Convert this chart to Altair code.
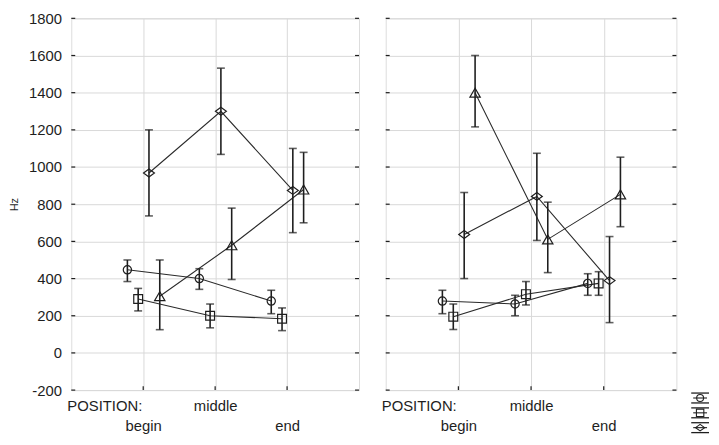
import altair as alt
import pandas as pd

# ---------------- data ----------------
positions = ["begin", "middle", "end"]
series_names = ["Series 1", "Series 2", "Series 3", "Series 4"]
series_shapes = ["circle", "square", "M-1,0L0,-0.72L1,0L0,0.72Z", "triangle-up"]
series_sizes = [70, 80, 121, 110]

# panel 1 (left)
p1_mean = {
    "Series 1": [447, 400, 279],
    "Series 2": [290, 200, 184],
    "Series 3": [968, 1300, 874],
    "Series 4": [305, 579, 879],
}
p1_lo = {
    "Series 1": [384, 342, 211],
    "Series 2": [226, 135, 120],
    "Series 3": [737, 1068, 647],
    "Series 4": [125, 395, 700],
}
p1_hi = {
    "Series 1": [500, 453, 337],
    "Series 2": [347, 263, 242],
    "Series 3": [1200, 1532, 1100],
    "Series 4": [500, 779, 1079],
}

# panel 2 (right)
p2_mean = {
    "Series 1": [279, 263, 374],
    "Series 2": [195, 316, 374],
    "Series 3": [637, 842, 389],
    "Series 4": [1400, 611, 853],
}
p2_lo = {
    "Series 1": [211, 200, 310],
    "Series 2": [126, 258, 310],
    "Series 3": [400, 605, 163],
    "Series 4": [1216, 432, 679],
}
p2_hi = {
    "Series 1": [337, 310, 426],
    "Series 2": [263, 384, 437],
    "Series 3": [863, 1074, 626],
    "Series 4": [1600, 811, 1053],
}

y_ticks = list(range(-200, 1801, 200))

# ---------------- layout / style settings ----------------
DODGE = {"Series 1": -0.22, "Series 2": -0.07, "Series 3": 0.08, "Series 4": 0.23}
W1, W2, H = 291, 294, 376
FONT = "Liberation Sans"
INK = "#1e1e1e"
GRID = "#d9d9d9"


def build_df(mean, lo, hi):
    rows = []
    for s in series_names:
        for i, p in enumerate(positions):
            rows.append({
                "series": s,
                "position": p,
                "x": i + 1 + DODGE[s],
                "mean": mean[s][i],
                "lo": lo[s][i],
                "hi": hi[s][i],
            })
    return pd.DataFrame(rows)


xscale = alt.Scale(domain=[0, 4], nice=False, zero=False)
yscale = alt.Scale(domain=[-200, 1800], nice=False, zero=False)

xaxis = alt.Axis(
    values=[1, 2, 3], title=None, grid=True, gridColor=GRID, gridWidth=1,
    ticks=False, tickSize=0, domain=False, labelOverlap=False,
    labelExpr="datum.value == 2 ? 'middle' : (datum.value == 1 ? ['', 'begin'] : ['', 'end'])",
    labelFont=FONT, labelFontSize=15, labelColor=INK, labelPadding=9,
    labelLineHeight=20, labelBaseline="top",
)


def yaxis(first):
    if first:
        return alt.Axis(
            values=y_ticks, title="Hz", titleFont=FONT, titleFontSize=11,
            titleFontWeight="normal", titleColor=INK, titlePadding=9,
            grid=True, gridColor=GRID, gridWidth=1, ticks=False, tickSize=0,
            domain=False, labelFont=FONT, labelFontSize=15, labelColor=INK,
            labelPadding=10, labelExpr="toString(datum.value)",
        )
    return alt.Axis(
        values=y_ticks, title=None, labels=False, grid=True, gridColor=GRID,
        gridWidth=1, ticks=False, tickSize=0, domain=False, minExtent=0,
    )


def panel(df, first, W):
    ya = yaxis(first)
    X = alt.X("x:Q", scale=xscale, axis=xaxis)
    base = alt.Chart(df)

    lines = base.mark_line(color="#2a2a2a", strokeWidth=1.1).encode(
        x=X, y=alt.Y("mean:Q", scale=yscale, axis=ya), detail="series:N"
    )
    bars = base.mark_rule(color=INK, strokeWidth=1.6).encode(
        x=X, y=alt.Y("lo:Q", scale=yscale, axis=ya), y2="hi:Q"
    )
    cap_lo = base.mark_tick(orient="horizontal", color=INK, size=8, thickness=1.6).encode(
        x=X, y=alt.Y("lo:Q", scale=yscale, axis=ya)
    )
    cap_hi = base.mark_tick(orient="horizontal", color=INK, size=8, thickness=1.6).encode(
        x=X, y=alt.Y("hi:Q", scale=yscale, axis=ya)
    )
    pts = []
    for s, shp, sz in zip(series_names, series_shapes, series_sizes):
        pts.append(
            base.transform_filter(alt.datum.series == s)
            .mark_point(shape=shp, size=sz, filled=False, color=INK, strokeWidth=1.2, opacity=1)
            .encode(x=X, y=alt.Y("mean:Q", scale=yscale, axis=ya))
        )

    # inward axis ticks drawn along the frame
    tdf = pd.DataFrame({"v": y_ticks})
    tl = alt.Chart(tdf).mark_rule(color=INK, strokeWidth=1.2).encode(
        x=alt.value(0), x2=alt.value(4), y=alt.Y("v:Q", scale=yscale, axis=ya)
    )
    tr = alt.Chart(tdf).mark_rule(color=INK, strokeWidth=1.2).encode(
        x=alt.value(W - 4), x2=alt.value(W), y=alt.Y("v:Q", scale=yscale, axis=ya)
    )
    xdf = pd.DataFrame({"v": [1, 2, 3]})
    tb = alt.Chart(xdf).mark_rule(color=INK, strokeWidth=1.2).encode(
        x=alt.X("v:Q", scale=xscale, axis=xaxis), y=alt.value(H - 4), y2=alt.value(H)
    )

    pos_label = alt.Chart(pd.DataFrame({"t": ["POSITION:"]})).mark_text(
        align="left", baseline="top", font=FONT, fontSize=15, color=INK
    ).encode(x=alt.value(-4), y=alt.value(H + 9), text="t:N")

    layers = [lines, bars, cap_lo, cap_hi] + pts + [tl, tr, tb, pos_label]

    if not first:
        # cropped legend glyphs at the bottom right
        for k, (s, shp, sz) in enumerate(zip(series_names[:3], series_shapes[:3], series_sizes[:3])):
            cy = H + 8 + 15 * k
            d = pd.DataFrame({"series": [s]})
            for dy in (-5, 5):
                layers.append(
                    alt.Chart(d).mark_rule(color=INK, strokeWidth=1.3).encode(
                        x=alt.value(W + 15), x2=alt.value(W + 33),
                        y=alt.value(cy + dy), y2=alt.value(cy + dy)
                    )
                )
            layers.append(
                alt.Chart(d).mark_rule(color=INK, strokeWidth=1.1).encode(
                    x=alt.value(W + 17), x2=alt.value(W + 31),
                    y=alt.value(cy), y2=alt.value(cy)
                )
            )
            layers.append(
                alt.Chart(d).mark_point(shape=shp, size=sz * 0.7, filled=False, color=INK,
                                        strokeWidth=1.1, opacity=1).encode(
                    x=alt.value(W + 24), y=alt.value(cy)
                )
            )

    return alt.layer(*layers).properties(width=W, height=H)


left = panel(build_df(p1_mean, p1_lo, p1_hi), True, W1)
right = panel(build_df(p2_mean, p2_lo, p2_hi), False, W2)

chart = (
    alt.hconcat(left, right, spacing=20)
    .properties(padding=0, background="white")
    .configure_view(stroke="#111111", strokeWidth=1.6)
    .configure(font=FONT)
)

chart.save("out.html", embed_options={"renderer": "svg", "actions": False})
